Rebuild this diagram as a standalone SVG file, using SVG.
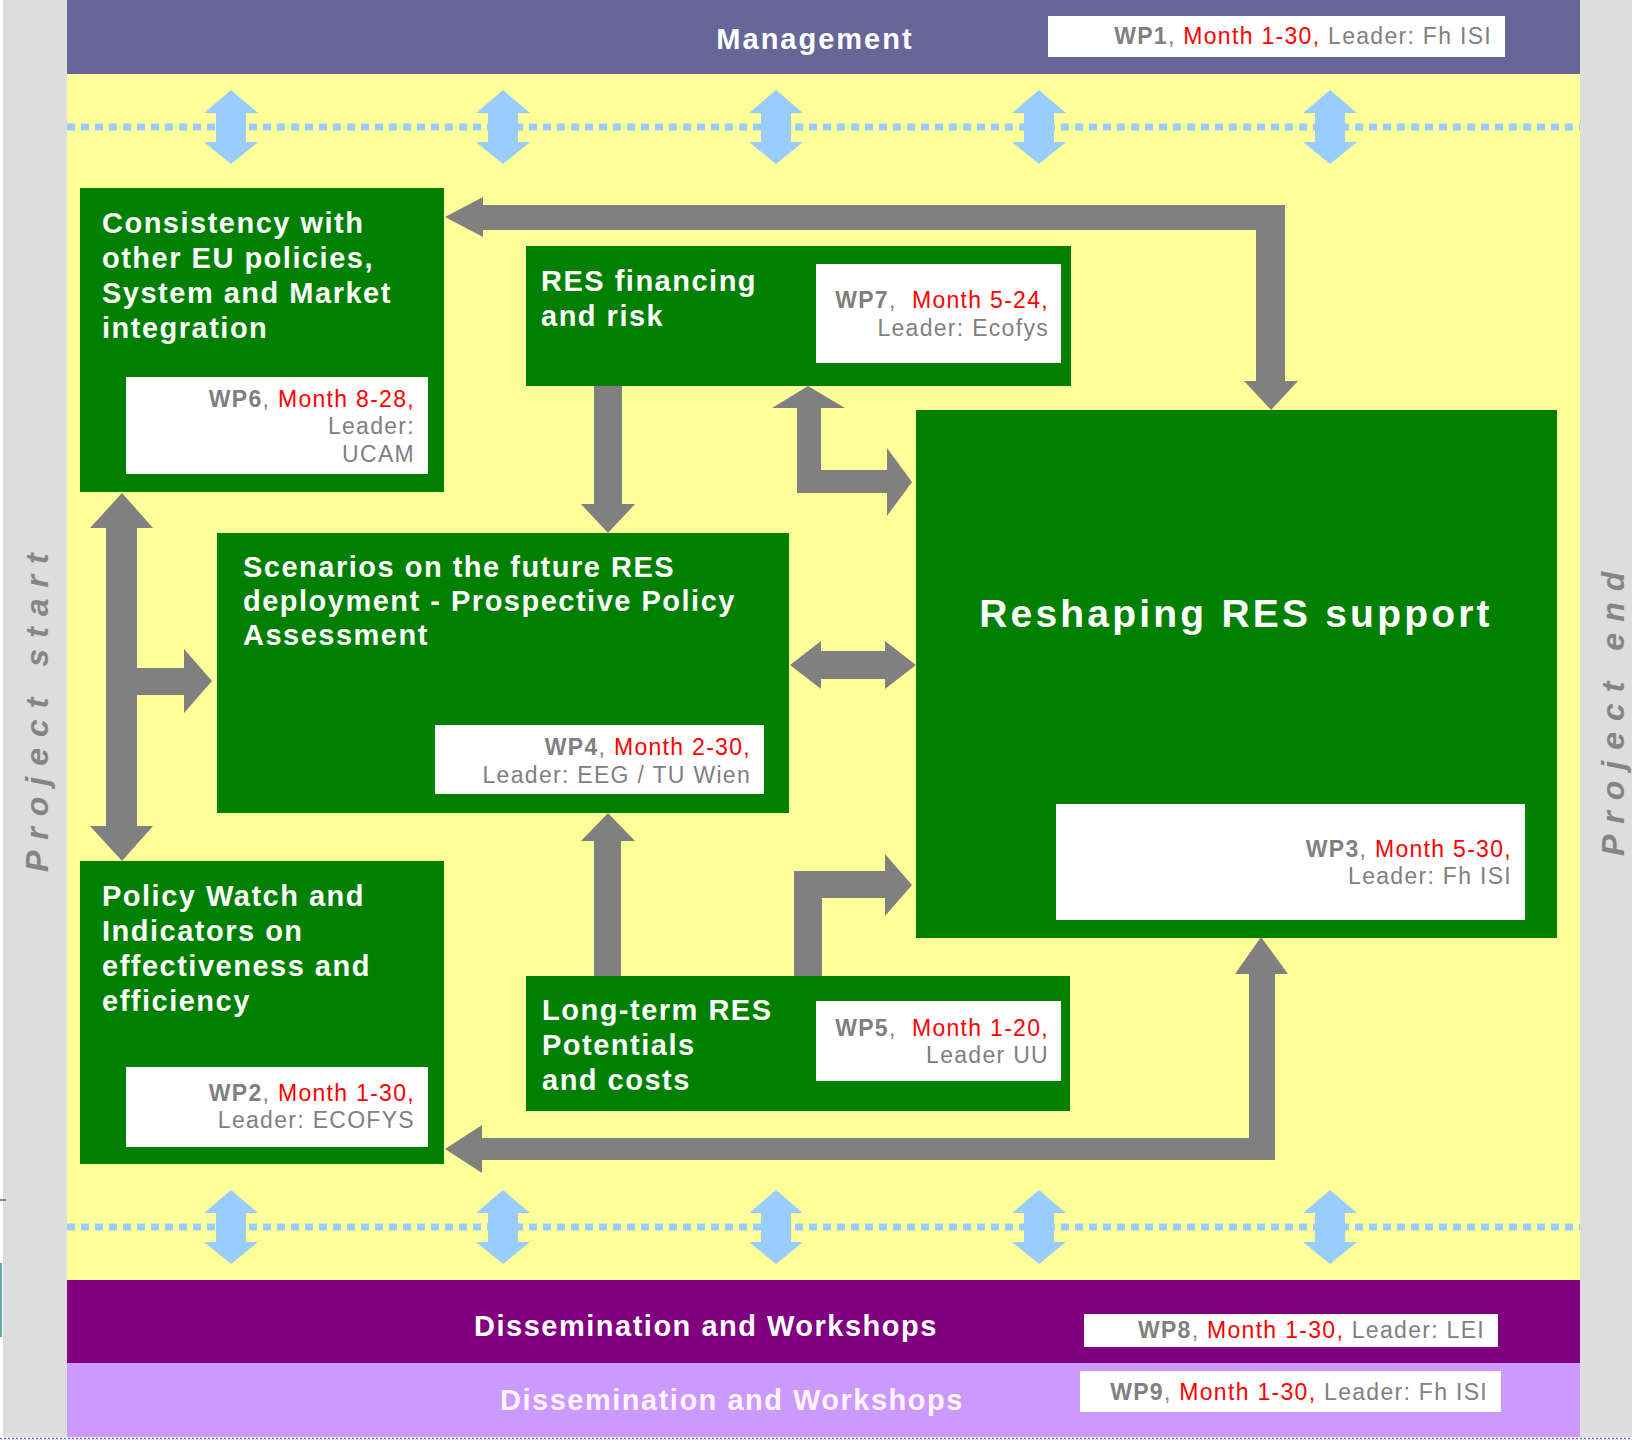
<svg xmlns="http://www.w3.org/2000/svg" xmlns:xlink="http://www.w3.org/1999/xlink" width="1632" height="1440" viewBox="0 0 1632 1440">
<style>
.title{font-family:"Liberation Sans",Arial,sans-serif;font-weight:bold;font-size:29px;letter-spacing:1.5px;fill:#FFFFFF}
.lbl{font-family:"Liberation Sans",Arial,sans-serif;font-size:23px;letter-spacing:1.3px;fill:#808080;text-anchor:end}
.lbl .b{font-weight:bold}
.lbl .r{fill:#FF0000}
.side{font-family:"Liberation Sans",Arial,sans-serif;font-weight:bold;font-style:italic;font-size:32px;letter-spacing:11px;fill:#858585}
.green{fill:#008000}
.white{fill:#FFFFFF}
.garrow{fill:#808080}
.barrow{fill:#99CCFF}
.dots{stroke:#99CCFF;stroke-width:7;stroke-dasharray:8 6;fill:none}
</style>
<defs>
<path id="bdbl" d="M0,-37 L27,-14 L15,-14 L15,15 L27,15 L0,37 L-27,15 L-15,15 L-15,-14 L-27,-14 Z"/>
</defs>
<rect x="0" y="0" width="1632" height="1440" fill="#FFFFFF"/>
<rect x="3" y="0" width="64" height="1437" fill="#DDDDDD"/>
<rect x="1580" y="0" width="52" height="1437" fill="#DDDDDD"/>
<rect x="0" y="1199" width="6" height="2" fill="#808080"/>
<rect x="0" y="1263" width="2" height="74" fill="#66AAAA"/>
<line x1="0" y1="1438.5" x2="1632" y2="1438.5" stroke="#6666CC" stroke-width="1.5" stroke-dasharray="2 2"/>
<rect x="67" y="74" width="1513" height="1206" fill="#FFFF99"/>

<g id="wp1">
<rect x="67" y="0" width="1513" height="74" fill="#666699"/>
<text class="title" x="815" y="49" text-anchor="middle" style="letter-spacing:2px">Management</text>
<rect class="white" x="1048" y="16" width="457" height="41"/>
<text class="lbl" x="1492" y="44"><tspan class="b">WP1</tspan>, <tspan class="r">Month 1-30,</tspan> Leader: Fh ISI</text>
</g>

<g id="wp8">
<rect x="67" y="1280" width="1513" height="83" fill="#800080"/>
<text class="title" x="706" y="1336" text-anchor="middle">Dissemination and Workshops</text>
<rect class="white" x="1084" y="1314" width="414" height="33"/>
<text class="lbl" x="1485" y="1338"><tspan class="b">WP8</tspan>, <tspan class="r">Month 1-30,</tspan> Leader: LEI</text>
</g>

<g id="wp9">
<rect x="67" y="1363" width="1513" height="74" fill="#CC99FF"/>
<text class="title" x="732" y="1410" text-anchor="middle" style="fill:#FFF4FF">Dissemination and Workshops</text>
<rect class="white" x="1080" y="1371" width="421" height="41"/>
<text class="lbl" x="1488" y="1400"><tspan class="b">WP9</tspan>, <tspan class="r">Month 1-30,</tspan> Leader: Fh ISI</text>
</g>

<g id="timeline">
<text class="side" transform="translate(48,872) rotate(-90)">Project start</text>
<text class="side" transform="translate(1624,856) rotate(-90)">Project end</text>
</g>

<g id="wp6">
<rect class="green" x="80" y="188" width="364" height="304"/>
<text class="title" x="102" y="233">Consistency with</text>
<text class="title" x="102" y="268">other EU policies,</text>
<text class="title" x="102" y="303">System and Market</text>
<text class="title" x="102" y="338">integration</text>
<rect class="white" x="126" y="377" width="302" height="97"/>
<text class="lbl" x="415" y="407"><tspan class="b">WP6</tspan>, <tspan class="r">Month 8-28,</tspan></text>
<text class="lbl" x="415" y="434">Leader:</text>
<text class="lbl" x="415" y="462">UCAM</text>
</g>

<g id="wp7">
<rect class="green" x="526" y="246" width="545" height="140"/>
<text class="title" x="541" y="291">RES financing</text>
<text class="title" x="541" y="326">and risk</text>
<rect class="white" x="816" y="264" width="245" height="99"/>
<text class="lbl" x="1049" y="308"><tspan class="b">WP7</tspan>,&#160; <tspan class="r">Month 5-24,</tspan></text>
<text class="lbl" x="1049" y="336">Leader: Ecofys</text>
</g>

<g id="wp4">
<rect class="green" x="217" y="533" width="572" height="280"/>
<text class="title" x="243" y="577">Scenarios on the future RES</text>
<text class="title" x="243" y="611">deployment - Prospective Policy</text>
<text class="title" x="243" y="645">Assessment</text>
<rect class="white" x="435" y="725" width="329" height="69"/>
<text class="lbl" x="751" y="755"><tspan class="b">WP4</tspan>, <tspan class="r">Month 2-30,</tspan></text>
<text class="lbl" x="751" y="783">Leader: EEG / TU Wien</text>
</g>

<g id="wp3">
<rect class="green" x="916" y="410" width="641" height="528"/>
<text class="title" x="1236" y="627" text-anchor="middle" style="font-size:39px;letter-spacing:3.2px">Reshaping RES support</text>
<rect class="white" x="1056" y="804" width="469" height="116"/>
<text class="lbl" x="1512" y="857"><tspan class="b">WP3</tspan>, <tspan class="r">Month 5-30,</tspan></text>
<text class="lbl" x="1512" y="884">Leader: Fh ISI</text>
</g>

<g id="wp2">
<rect class="green" x="80" y="861" width="364" height="303"/>
<text class="title" x="102" y="906">Policy Watch and</text>
<text class="title" x="102" y="941">Indicators on</text>
<text class="title" x="102" y="976">effectiveness and</text>
<text class="title" x="102" y="1011">efficiency</text>
<rect class="white" x="126" y="1067" width="302" height="80"/>
<text class="lbl" x="415" y="1101"><tspan class="b">WP2</tspan>, <tspan class="r">Month 1-30,</tspan></text>
<text class="lbl" x="415" y="1128">Leader: ECOFYS</text>
</g>

<g id="wp5">
<rect class="green" x="526" y="976" width="544" height="135"/>
<text class="title" x="542" y="1020">Long-term RES</text>
<text class="title" x="542" y="1055">Potentials</text>
<text class="title" x="542" y="1090">and costs</text>
<rect class="white" x="816" y="1001" width="245" height="80"/>
<text class="lbl" x="1049" y="1036"><tspan class="b">WP5</tspan>,&#160; <tspan class="r">Month 1-20,</tspan></text>
<text class="lbl" x="1049" y="1063">Leader UU</text>
</g>

<g id="connectors">
<line class="dots" x1="67" y1="127" x2="1580" y2="127"/>
<line class="dots" x1="67" y1="1227" x2="1580" y2="1227"/>
<g class="barrow">
<use xlink:href="#bdbl" x="231" y="127"/>
<use xlink:href="#bdbl" x="503" y="127"/>
<use xlink:href="#bdbl" x="776" y="127"/>
<use xlink:href="#bdbl" x="1039" y="127"/>
<use xlink:href="#bdbl" x="1330" y="127"/>
<use xlink:href="#bdbl" x="231" y="1227"/>
<use xlink:href="#bdbl" x="503" y="1227"/>
<use xlink:href="#bdbl" x="776" y="1227"/>
<use xlink:href="#bdbl" x="1039" y="1227"/>
<use xlink:href="#bdbl" x="1330" y="1227"/>
</g>
<g class="garrow">
<polygon points="594,386 622,386 622,504 635,504 608,533 581,504 594,504"/>
<polygon points="808,386 845,408 821,408 821,470 887,470 887,448 912,482 887,516 887,493 797,493 797,408 772,408"/>
<polygon points="445,217 483,197 483,205 1285,205 1285,381 1298,381 1271,410 1244,381 1256,381 1256,230 483,230 483,237"/>
<polygon points="122,493 153,528 137,528 137,668 184,668 184,649 212,681 184,713 184,695 137,695 137,826 153,826 122,861 90,826 106,826 106,528 90,528"/>
<polygon points="790,665 821,641 821,651 885,651 885,641 916,665 885,689 885,679 821,679 821,689"/>
<polygon points="594,976 621,976 621,841 635,841 608,813 581,841 594,841"/>
<polygon points="794,976 794,871 885,871 885,854 912,885 885,916 885,898 822,898 822,976"/>
<polygon points="445,1149 482,1125 482,1138 1249,1138 1249,974 1235,974 1261,937 1288,974 1275,974 1275,1160 482,1160 482,1173"/>
</g>
</g>
</svg>
